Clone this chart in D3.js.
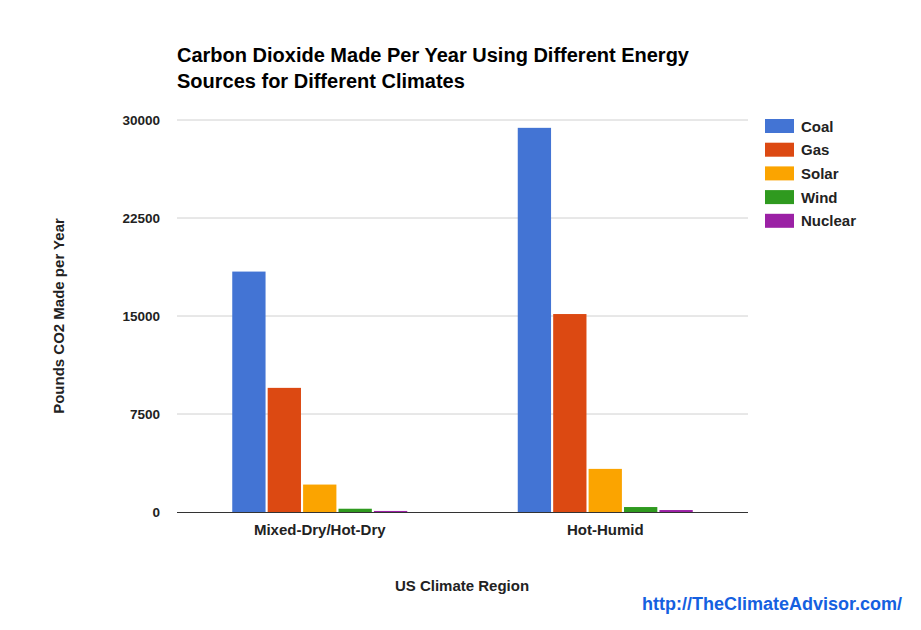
<!DOCTYPE html>
<html>
<head>
<meta charset="utf-8">
<script src="https://cdn.jsdelivr.net/npm/d3@7/dist/d3.min.js"></script>
<style>
  body { margin: 0; background: #fff; }
  svg { font-family: "Liberation Sans", Arial, sans-serif; font-weight: bold; }
</style>
</head>
<body>
<svg id="chart" width="921" height="630"></svg>
<script>
// ── Data ────────────────────────────────────────────────────────────────
const regions = ["Mixed-Dry/Hot-Dry", "Hot-Humid"];
const sources = ["Coal", "Gas", "Solar", "Wind", "Nuclear"];
const colors = ["#4374d4", "#dc4912", "#fba400", "#2f9a1f", "#9b21a5"];
const mixedDry = [18400, 9500, 2100, 250, 80];
const hotHumid = [29400, 15150, 3300, 380, 150];
const yTicks = [0, 7500, 15000, 22500, 30000];

const values = [mixedDry, hotHumid];

// ── Layout ──────────────────────────────────────────────────────────────
const svg = d3.select("#chart");
const plotLeft = 177, plotRight = 748, plotTop = 120, plotBottom = 512;

const x0 = d3.scaleBand().domain(regions).range([plotLeft, plotRight]);
const groupW = 175;
const x1 = d3.scaleBand().domain(sources).range([0, groupW]).paddingInner(0.06);
const y = d3.scaleLinear().domain([0, 30000]).range([plotBottom, plotTop]);

// ── Title ──
const title = svg.append("text").attr("x", 177).attr("y", 62)
  .attr("font-size", 20).attr("fill", "#000");
title.append("tspan").attr("x", 177).text("Carbon Dioxide Made Per Year Using Different Energy");
title.append("tspan").attr("x", 177).attr("dy", 26).text("Sources for Different Climates");

// ── Gridlines and y ticks ──
svg.append("g").selectAll("line").data(yTicks.filter(d => d > 0)).join("line")
  .attr("x1", plotLeft).attr("x2", plotRight)
  .attr("y1", d => y(d)).attr("y2", d => y(d))
  .attr("stroke", "#d0d0d0").attr("stroke-width", 1);

svg.append("g").selectAll("text").data(yTicks).join("text")
  .attr("x", 160).attr("y", d => y(d) + 5)
  .attr("text-anchor", "end").attr("font-size", 13.5).attr("fill", "#222")
  .text(d => d);

// ── Bars ──
const groups = svg.append("g").selectAll("g").data(regions).join("g")
  .attr("transform", r => `translate(${x0(r) + (x0.bandwidth() - groupW) / 2},0)`);

groups.selectAll("rect")
  .data((r, i) => sources.map((s, j) => ({ s, v: values[i][j], c: colors[j] })))
  .join("rect")
  .attr("x", d => x1(d.s))
  .attr("width", x1.bandwidth())
  .attr("y", d => y(d.v))
  .attr("height", d => plotBottom - y(d.v))
  .attr("fill", d => d.c);

// ── Baseline ──
svg.append("line").attr("x1", plotLeft).attr("x2", plotRight)
  .attr("y1", plotBottom + 0.5).attr("y2", plotBottom + 0.5)
  .attr("stroke", "#333").attr("stroke-width", 1.2);

// ── X labels ──
svg.append("g").selectAll("text").data(regions).join("text")
  .attr("x", r => x0(r) + x0.bandwidth() / 2).attr("y", 535)
  .attr("text-anchor", "middle").attr("font-size", 15).attr("fill", "#222")
  .text(r => r);

// ── Axis titles ──
svg.append("text").attr("x", 462).attr("y", 591)
  .attr("text-anchor", "middle").attr("font-size", 15).attr("fill", "#222")
  .text("US Climate Region");

svg.append("text")
  .attr("transform", "translate(64,316) rotate(-90)")
  .attr("text-anchor", "middle").attr("font-size", 15).attr("fill", "#222")
  .text("Pounds CO2 Made per Year");

// ── Legend ──
const legend = svg.append("g").selectAll("g").data(sources).join("g")
  .attr("transform", (d, i) => `translate(765,${119 + i * 23.7})`);
legend.append("rect").attr("width", 29).attr("height", 14)
  .attr("fill", (d, i) => colors[i]);
legend.append("text").attr("x", 36).attr("y", 12.5)
  .attr("font-size", 15).attr("fill", "#222").text(d => d);

// ── Source URL ──
svg.append("text").attr("x", 902).attr("y", 610)
  .attr("text-anchor", "end").attr("font-size", 18).attr("fill", "#1560e0")
  .text("http://TheClimateAdvisor.com/");
</script>
</body>
</html>
